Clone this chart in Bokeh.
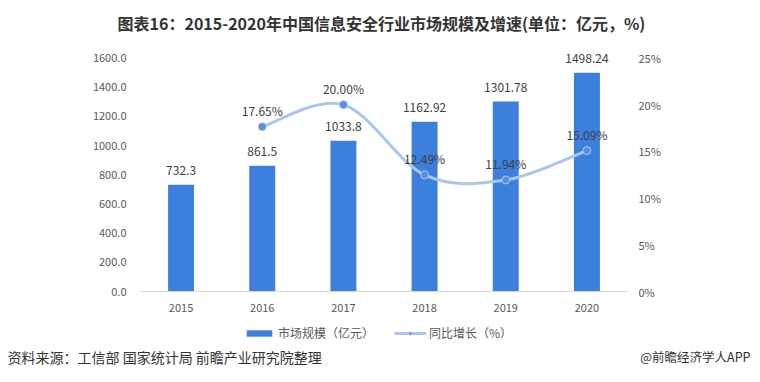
from bokeh.plotting import figure
from bokeh.models import (ColumnDataSource, Range1d, LinearAxis, FixedTicker,
                          PrintfTickFormatter, Label, Legend, LegendItem)
from bokeh.core.properties import value
from bokeh.embed import file_html
from bokeh.resources import INLINE

# ---- data ----
years = ["2015", "2016", "2017", "2018", "2019", "2020"]
market = [732.3, 861.5, 1033.8, 1162.92, 1301.78, 1498.24]
growth_years = ["2016", "2017", "2018", "2019", "2020"]
growth = [17.65, 20.00, 12.49, 11.94, 15.09]
left_ticks = [0, 200, 400, 600, 800, 1000, 1200, 1400, 1600]
right_ticks = [0, 5, 10, 15, 20, 25]

title_text = "图表16：2015-2020年中国信息安全行业市场规模及增速(单位：亿元，%)"
source_text = "资料来源：工信部 国家统计局 前瞻产业研究院整理"
credit_text = "@前瞻经济学人APP"
bar_name = "市场规模（亿元）"
line_name = "同比增长（%）"

FONT = "Noto Sans CJK SC"
BAR_COLOR = "#3d7fdc"
LINE_COLOR = "#a9c7ee"
MARK_COLOR = "#5a8fdb"
AXIS_TEXT = "#595959"
LABEL_TEXT = "#404040"

# ---- canvas geometry (pixels) ----
W, H = 752, 374
PLOT_L, PLOT_R = 140, 627      # category band
PLOT_T, PLOT_B = 57.5, 291     # 1600 / 0 on the left axis
LEFT_TOP, PCT_TOP = 1600, 25

xpx = (PLOT_R - PLOT_L) / len(years)
ypx = (PLOT_B - PLOT_T) / LEFT_TOP
ppx = (PLOT_B - PLOT_T) / PCT_TOP
x_range = Range1d(-PLOT_L / xpx, len(years) + (W - PLOT_R) / xpx)
y_range = Range1d(-(H - PLOT_B) / ypx, PLOT_B / ypx)
pct_range = Range1d(-(H - PLOT_B) / ppx, PLOT_B / ppx)

xpos = {y: i + 0.5 for i, y in enumerate(years)}
bar_x = [xpos[y] for y in years]
g_x = [xpos[y] for y in growth_years]

p = figure(width=W, height=H, output_backend="svg", toolbar_location=None,
           x_range=x_range, y_range=y_range, min_border=0,
           min_border_left=0, min_border_right=0, min_border_top=0,
           min_border_bottom=0, x_axis_type=None, y_axis_type=None)
p.extra_y_ranges = {"pct": pct_range}
p.outline_line_color = None
p.grid.visible = False
p.background_fill_color = "white"
p.border_fill_color = "white"

# axes drawn at fixed locations inside the canvas
xaxis = LinearAxis(ticker=FixedTicker(ticks=bar_x), fixed_location=0,
                   bounds=(0, len(years)))
xaxis.major_label_overrides = {xpos[y]: y for y in years}
xaxis.axis_line_color = "#d9d9d9"
xaxis.axis_line_width = 1
xaxis.major_tick_line_color = None
xaxis.minor_tick_line_color = None
xaxis.major_label_text_color = AXIS_TEXT
xaxis.major_label_text_font = FONT
xaxis.major_label_text_font_size = "11px"
xaxis.major_label_standoff = 6
p.add_layout(xaxis, "below")

laxis = LinearAxis(ticker=FixedTicker(ticks=left_ticks), fixed_location=0,
                   bounds=(0, LEFT_TOP), formatter=PrintfTickFormatter(format="%.1f"))
laxis.axis_line_color = None
laxis.major_tick_line_color = None
laxis.minor_tick_line_color = None
laxis.major_label_text_color = AXIS_TEXT
laxis.major_label_text_font = FONT
laxis.major_label_text_font_size = "11px"
laxis.major_label_standoff = 8
p.add_layout(laxis, "left")

raxis = LinearAxis(y_range_name="pct", ticker=FixedTicker(ticks=right_ticks),
                   fixed_location=len(years), bounds=(0, PCT_TOP),
                   formatter=PrintfTickFormatter(format="%d%%"))
raxis.axis_line_color = None
raxis.major_tick_line_color = None
raxis.minor_tick_line_color = None
raxis.major_label_text_color = AXIS_TEXT
raxis.major_label_text_font = FONT
raxis.major_label_text_font_size = "11px"
raxis.major_label_standoff = 5
p.add_layout(raxis, "right")

# bars
bsrc = ColumnDataSource(dict(x=bar_x, top=market, lab=[str(v) for v in market]))
bars = p.vbar(x="x", top="top", bottom=0, width=0.32, source=bsrc,
              fill_color=BAR_COLOR, line_color=None)
p.text(x="x", y="top", text="lab", source=bsrc, text_align="center",
       text_baseline="middle", y_offset=-14, text_font=value(FONT),
       text_font_size="12px", text_color=LABEL_TEXT)

# smooth growth line: cubic Bezier segments through the data points
n = len(g_x)
seg = dict(x0=[], y0=[], x1=[], y1=[], cx0=[], cy0=[], cx1=[], cy1=[])
for i in range(n - 1):
    xa, ya = g_x[i], growth[i]
    xb, yb = g_x[i + 1], growth[i + 1]
    xp, yp = (g_x[i - 1], growth[i - 1]) if i > 0 else (xa, ya)
    xn, yn = (g_x[i + 2], growth[i + 2]) if i + 2 < n else (xb, yb)
    seg["x0"].append(xa); seg["y0"].append(ya)
    seg["x1"].append(xb); seg["y1"].append(yb)
    seg["cx0"].append(xa + (xb - xp) / 6); seg["cy0"].append(ya + (yb - yp) / 6)
    seg["cx1"].append(xb - (xn - xa) / 6); seg["cy1"].append(yb - (yn - ya) / 6)
curve = p.bezier(x0="x0", y0="y0", x1="x1", y1="y1", cx0="cx0", cy0="cy0",
                 cx1="cx1", cy1="cy1", source=ColumnDataSource(seg),
                 line_color=LINE_COLOR, line_width=3, y_range_name="pct")

gsrc = ColumnDataSource(dict(x=g_x, y=growth, lab=[f"{v:.2f}%" for v in growth]))
marks = p.scatter(x="x", y="y", source=gsrc, size=8, fill_color=MARK_COLOR,
                  line_color=LINE_COLOR, line_width=1, y_range_name="pct")
p.text(x="x", y="y", text="lab", source=gsrc, text_align="center",
       text_baseline="middle", y_offset=-16, text_font=value(FONT),
       text_font_size="12px", text_color=LABEL_TEXT, y_range_name="pct")

legend = Legend(items=[LegendItem(label=bar_name, renderers=[bars]),
                       LegendItem(label=line_name, renderers=[curve, marks])],
                orientation="horizontal", location=(243, H - 341),
                glyph_width=32, glyph_height=8, label_height=14,
                label_standoff=3, spacing=20, padding=0, margin=0,
                border_line_color=None, background_fill_alpha=0,
                label_text_font=FONT, label_text_font_size="12px",
                label_text_color=AXIS_TEXT)
p.add_layout(legend, "center")

# title and footer
p.add_layout(Label(x=381, y=H - 22, x_units="screen", y_units="screen",
                   text=title_text, text_align="center", text_baseline="middle",
                   text_font=FONT, text_font_size="16px", text_font_style="bold",
                   text_color="#333333"))
p.add_layout(Label(x=7, y=H - 356, x_units="screen", y_units="screen",
                   text=source_text, text_align="left", text_baseline="middle",
                   text_font=FONT, text_font_size="14px", text_color="#333333"))
p.add_layout(Label(x=W - 2, y=H - 356, x_units="screen", y_units="screen",
                   text=credit_text, text_align="right", text_baseline="middle",
                   text_font=FONT, text_font_size="12.5px", text_color="#333333"))

open("out.html", "w").write(file_html(p, INLINE))
